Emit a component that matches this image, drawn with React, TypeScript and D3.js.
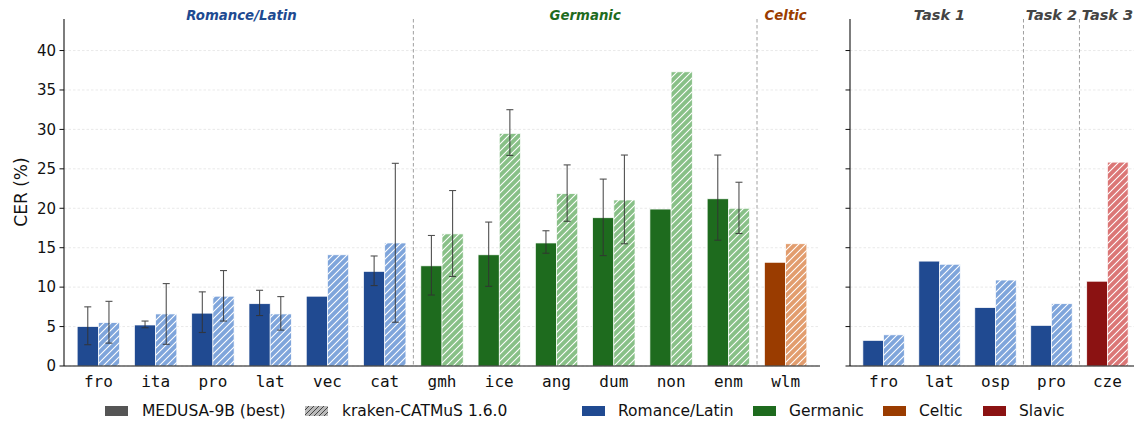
import React from 'react';
import * as d3 from 'd3';

const leftCats = ['fro', 'ita', 'pro', 'lat', 'vec', 'cat', 'gmh', 'ice', 'ang', 'dum', 'non', 'enm', 'wlm'];
const leftFamily = ['Romance', 'Romance', 'Romance', 'Romance', 'Romance', 'Romance', 'Germanic', 'Germanic', 'Germanic', 'Germanic', 'Germanic', 'Germanic', 'Celtic'];
const leftMedusa = [5.0, 5.2, 6.7, 7.9, 8.85, 12.0, 12.7, 14.1, 15.6, 18.8, 19.9, 21.2, 13.15];
const leftMedusaLo = [2.7, 4.85, 4.25, 6.4, null, 10.2, 9.0, 10.1, 14.3, 14.0, null, 15.95, null];
const leftMedusaHi = [7.5, 5.7, 9.4, 9.6, null, 13.95, 16.55, 18.25, 17.15, 23.7, null, 26.75, null];
const leftKraken = [5.5, 6.6, 8.85, 6.6, 14.1, 15.6, 16.75, 29.5, 21.85, 21.05, 37.3, 20.0, 15.5];
const leftKrakenLo = [2.9, 2.75, 5.7, 4.55, null, 5.55, 11.35, 26.7, 18.35, 15.5, null, 16.8, null];
const leftKrakenHi = [8.2, 10.45, 12.1, 8.8, null, 25.7, 22.25, 32.5, 25.5, 26.75, null, 23.3, null];

const rightCats = ['fro', 'lat', 'osp', 'pro', 'cze'];
const rightFamily = ['Romance', 'Romance', 'Romance', 'Romance', 'Slavic'];
const rightMedusa = [3.25, 13.3, 7.4, 5.15, 10.75];
const rightKraken = [3.95, 12.9, 10.9, 7.9, 25.85];

const yTicks = [0, 5, 10, 15, 20, 25, 30, 35, 40];

const leftGroups = [
  { label: 'Romance/Latin', from: 0, to: 5, family: 'Romance' },
  { label: 'Germanic', from: 6, to: 11, family: 'Germanic' },
  { label: 'Celtic', from: 12, to: 12, family: 'Celtic' },
];
const leftSeparators = [5.5, 11.5];
const rightGroups = [
  { label: 'Task 1', from: 0, to: 2, family: 'Task' },
  { label: 'Task 2', from: 3, to: 3, family: 'Task' },
  { label: 'Task 3', from: 4, to: 4, family: 'Task' },
];
const rightSeparators = [2.5, 3.5];

const darkColor: Record<string, string> = {
  Romance: '#204a91',
  Germanic: '#1e6b1e',
  Celtic: '#9a3c00',
  Slavic: '#8b1212',
  Task: '#444444',
};
const lightColor: Record<string, string> = {
  Romance: '#7fa5db',
  Germanic: '#88c087',
  Celtic: '#e29d6e',
  Slavic: '#db7676',
};

const legendFamilies = [
  { label: 'Romance/Latin', family: 'Romance' },
  { label: 'Germanic', family: 'Germanic' },
  { label: 'Celtic', family: 'Celtic' },
  { label: 'Slavic', family: 'Slavic' },
];

const TOP = 19;
const BOTTOM = 366;
const BAR_W = 0.37;

const y = d3.scaleLinear().domain([0, 44]).range([BOTTOM, TOP]);

type PanelProps = {
  x0: number;
  x1: number;
  cats: string[];
  family: string[];
  medusa: number[];
  kraken: number[];
  mLo?: (number | null)[];
  mHi?: (number | null)[];
  kLo?: (number | null)[];
  kHi?: (number | null)[];
  groups: { label: string; from: number; to: number; family: string }[];
  separators: number[];
  showYLabels: boolean;
  titleSize: number;
};

function ErrBar({ cx, lo, hi }: { cx: number; lo: number | null | undefined; hi: number | null | undefined }) {
  if (lo == null || hi == null) return null;
  const c = 3.5;
  return (
    <g stroke="#333" strokeWidth={1.1} opacity={0.85}>
      <line x1={cx} x2={cx} y1={y(lo)} y2={y(hi)} />
      <line x1={cx - c} x2={cx + c} y1={y(lo)} y2={y(lo)} />
      <line x1={cx - c} x2={cx + c} y1={y(hi)} y2={y(hi)} />
    </g>
  );
}

function Panel(p: PanelProps) {
  const n = p.cats.length;
  const x = d3.scaleLinear().domain([-0.6, n - 1 + 0.6]).range([p.x0, p.x1]);
  const bw = x(BAR_W) - x(0);
  return (
    <g>
      {yTicks.map((t) => (
        <line key={'g' + t} x1={p.x0} x2={p.x1} y1={y(t)} y2={y(t)} stroke="#e3e3e3" strokeWidth={0.8} strokeDasharray="2.5,2" />
      ))}
      {p.separators.map((s) => (
        <line key={'s' + s} x1={x(s)} x2={x(s)} y1={TOP} y2={BOTTOM} stroke="#a0a0a0" strokeWidth={1} strokeDasharray="3.5,2.5" />
      ))}
      {p.cats.map((c, i) => {
        const fam = p.family[i];
        const xm = x(i) - bw;
        const xk = x(i);
        return (
          <g key={c + i}>
            <rect x={xm} y={y(p.medusa[i])} width={bw} height={y(0) - y(p.medusa[i])} fill={darkColor[fam]} stroke="#ffffff" strokeWidth={0.7} />
            <rect x={xk} y={y(p.kraken[i])} width={bw} height={y(0) - y(p.kraken[i])} fill={lightColor[fam]} />
            <rect x={xk} y={y(p.kraken[i])} width={bw} height={y(0) - y(p.kraken[i])} fill="url(#hatchWhite)" stroke="#ffffff" strokeWidth={0.7} />
          </g>
        );
      })}
      {p.cats.map((c, i) => (
        <g key={'e' + c + i}>
          <ErrBar cx={x(i) - bw / 2} lo={p.mLo?.[i]} hi={p.mHi?.[i]} />
          <ErrBar cx={x(i) + bw / 2} lo={p.kLo?.[i]} hi={p.kHi?.[i]} />
        </g>
      ))}
      <line x1={p.x0} x2={p.x0} y1={TOP} y2={BOTTOM} stroke="#111" strokeWidth={1.1} />
      <line x1={p.x0} x2={p.x1} y1={BOTTOM} y2={BOTTOM} stroke="#111" strokeWidth={1.1} />
      {yTicks.map((t) => (
        <g key={'t' + t}>
          <line x1={p.x0 - 4.5} x2={p.x0} y1={y(t)} y2={y(t)} stroke="#111" strokeWidth={1} />
          {p.showYLabels && (
            <text x={p.x0 - 8} y={y(t)} dy="0.35em" textAnchor="end" fontSize={15} fill="#111" fontFamily="DejaVu Sans">
              {t}
            </text>
          )}
        </g>
      ))}
      {p.cats.map((c, i) => (
        <text key={'x' + c + i} x={x(i)} y={387} textAnchor="middle" fontSize={16} fill="#111" fontFamily="DejaVu Sans Mono">
          {c}
        </text>
      ))}
      {p.groups.map((g) => (
        <text key={g.label} x={(x(g.from) + x(g.to)) / 2} y={20} textAnchor="middle" fontSize={p.titleSize} fontWeight="bold" fontStyle="italic" fill={darkColor[g.family]} fontFamily="DejaVu Sans">
          {g.label}
        </text>
      ))}
    </g>
  );
}

export default function App() {
  return (
    <svg width={1134} height={423} style={{ position: 'absolute', left: 0, top: 0, display: 'block', background: '#fff' }} fontFamily="DejaVu Sans">
      <defs>
        <pattern id="hatchWhite" patternUnits="userSpaceOnUse" width={7} height={7}>
          <path d="M-1,1 L1,-1 M0,7 L7,0 M6,8 L8,6" stroke="#ffffff" strokeWidth={1.1} />
        </pattern>
        <pattern id="hatchDark" patternUnits="userSpaceOnUse" width={5} height={5}>
          <path d="M-1,1 L1,-1 M0,5 L5,0 M4,6 L6,4" stroke="#444" strokeWidth={1} />
        </pattern>
      </defs>
      <rect width={1134} height={423} fill="#fff" />
      <text transform="translate(21,192) rotate(-90)" textAnchor="middle" dy="0.35em" fontSize={17} fill="#111">
        CER (%)
      </text>
      <Panel
        x0={64}
        x1={820}
        cats={leftCats}
        family={leftFamily}
        medusa={leftMedusa}
        kraken={leftKraken}
        mLo={leftMedusaLo}
        mHi={leftMedusaHi}
        kLo={leftKrakenLo}
        kHi={leftKrakenHi}
        groups={leftGroups}
        separators={leftSeparators}
        showYLabels={true}
        titleSize={13.3}
      />
      <Panel
        x0={850}
        x1={1141}
        cats={rightCats}
        family={rightFamily}
        medusa={rightMedusa}
        kraken={rightKraken}
        groups={rightGroups}
        separators={rightSeparators}
        showYLabels={false}
        titleSize={14.5}
      />
      <g fontSize={15.5} fill="#111">
        <rect x={105} y={406} width={23} height={10} fill="#555555" />
        <text x={142} y={411} dy="0.35em">MEDUSA-9B (best)</text>
        <rect x={305} y={406} width={23} height={10} fill="#bbbbbb" />
        <rect x={305} y={406} width={23} height={10} fill="url(#hatchDark)" />
        <text x={342} y={411} dy="0.35em">kraken-CATMuS 1.6.0</text>
        {legendFamilies.map((f, i) => {
          const xs = [582, 753, 883, 983][i];
          return (
            <g key={f.label}>
              <rect x={xs} y={406} width={23} height={10} fill={darkColor[f.family]} />
              <text x={xs + 36} y={411} dy="0.35em">{f.label}</text>
            </g>
          );
        })}
      </g>
    </svg>
  );
}
